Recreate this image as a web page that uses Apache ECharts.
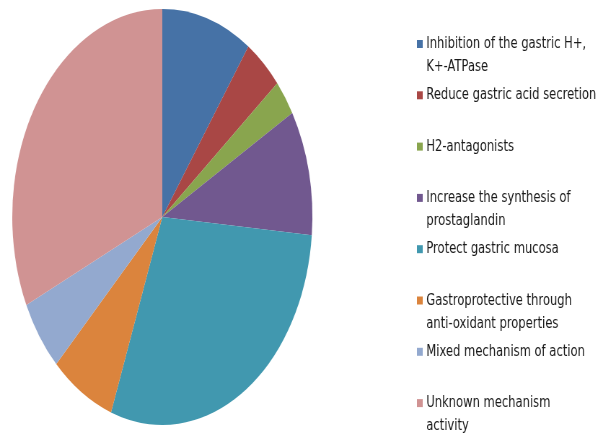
<!DOCTYPE html>
<html>
<head>
<meta charset="utf-8">
<script src="https://cdn.jsdelivr.net/npm/echarts@6/dist/echarts.min.js"></script>
<style>
html, body { margin: 0; padding: 0; background: #ffffff; overflow: hidden; width: 598px; height: 434px; }
#chart { width: 829px; height: 520px; transform: scaleX(0.7213); transform-origin: 0 0; }
</style>
</head>
<body>
<div id="chart"></div>
<script>
var categories = [
  'Inhibition of the gastric H+, K+-ATPase',
  'Reduce gastric acid secretion',
  'H2-antagonists',
  'Increase the synthesis of prostaglandin',
  'Protect gastric mucosa',
  'Gastroprotective through anti-oxidant properties',
  'Mixed mechanism of action',
  'Unknown mechanism activity'
];
var legendLines = [
  ['Inhibition of the gastric H+,', 'K+-ATPase'],
  ['Reduce gastric acid secretion', ''],
  ['H2-antagonists', ''],
  ['Increase the synthesis of', 'prostaglandin'],
  ['Protect gastric mucosa', ''],
  ['Gastroprotective through', 'anti-oxidant properties'],
  ['Mixed mechanism of action', ''],
  ['Unknown mechanism', 'activity']
];
var values = [7, 3, 2, 7, 21, 5, 4, 23];
var colors = ['#4672A6', '#A94745', '#89A54E', '#71588F', '#4198AF', '#DB843D', '#93A9CF', '#D09393'];

var chart = echarts.init(document.getElementById('chart'), null, { renderer: 'canvas' });
var lineH = 23;
var step = 51.3;
var option = {
  backgroundColor: '#ffffff',
  animation: false,
  color: colors,
  legend: {
    orient: 'vertical',
    left: 578,
    top: 44 - lineH * 1.5,
    itemWidth: 8,
    itemHeight: 8,
    itemGap: step - lineH * 3,
    icon: 'rect',
    padding: 0,
    selectedMode: false,
    data: categories,
    formatter: function (name) {
      var i = categories.indexOf(name);
      return '\n' + legendLines[i][0] + '\n' + legendLines[i][1];
    },
    textStyle: {
      fontFamily: 'DejaVu Sans',
      fontSize: 16,
      lineHeight: lineH,
      color: '#1a1a1a'
    }
  },
  series: [{
    type: 'pie',
    center: [225, 217],
    radius: 208,
    startAngle: 90,
    clockwise: true,
    label: { show: false },
    labelLine: { show: false },
    itemStyle: { borderWidth: 0 },
    emphasis: { disabled: true },
    data: categories.map(function (c, i) { return { name: c, value: values[i] }; })
  }]
};
chart.setOption(option);
</script>
</body>
</html>
